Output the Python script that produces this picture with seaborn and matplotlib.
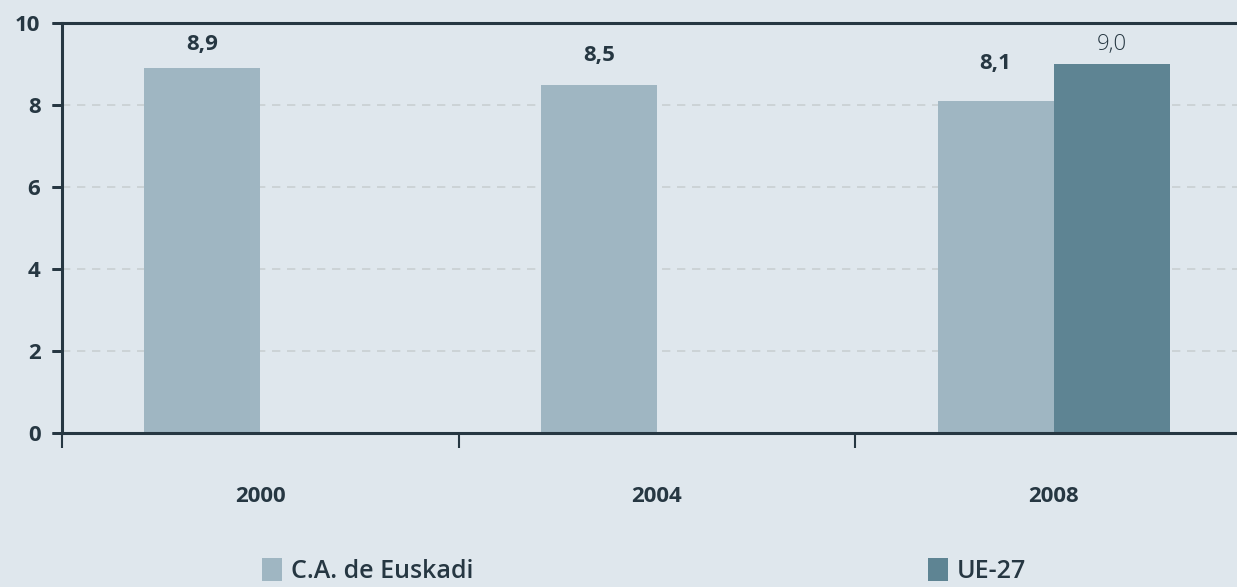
import pandas as pd
import numpy as np
import matplotlib.pyplot as plt
import seaborn as sns
from matplotlib.ticker import FixedLocator

years = ['2000', '2004', '2008']
euskadi = [8.9, 8.5, 8.1]
ue27 = [np.nan, np.nan, 9.0]
series = ['C.A. de Euskadi', 'UE-27']
colors = ['#9fb6c2', '#5e8493']

bg = '#dfe7ed'
dark = '#263742'

df = pd.DataFrame({
    'year': years * 2,
    'valor': euskadi + ue27,
    'serie': [series[0]] * 3 + [series[1]] * 3,
})

sns.set_style('ticks')
plt.rcParams['font.family'] = ['Open Sans', 'DejaVu Sans']

fig = plt.figure(figsize=(12.37, 5.87), dpi=100, facecolor=bg)
ax = fig.add_axes([62 / 1237, 154 / 587, 1190 / 1237, 410 / 587])
ax.set_facecolor(bg)

sns.barplot(data=df, x='year', y='valor', hue='serie', palette=colors,
            width=0.585, saturation=1, linewidth=0, ax=ax, legend=True)

ax.set_xlim(-0.5, 2.5)
ax.set_ylim(0, 10)
ax.set_yticks(range(0, 11, 2))
ax.set_xlabel('')
ax.set_ylabel('')

# linhas de grade tracejadas
for y in [2, 4, 6, 8]:
    ax.axhline(y, color='#c9cfd2', lw=1.2, ls=(0, (5, 4)), zorder=0)

for s in ['left', 'bottom', 'top']:
    ax.spines[s].set_color(dark)
    ax.spines[s].set_linewidth(2.2)
ax.spines['right'].set_visible(False)

ax.tick_params(axis='y', which='major', left=True, direction='out', length=7.5,
               width=2, color=dark, pad=8, labelsize=16, labelcolor=dark)
ax.tick_params(axis='x', which='major', bottom=True, length=0, pad=38,
               labelsize=16, labelcolor=dark)
ax.xaxis.set_minor_locator(FixedLocator([-0.5, 0.5, 1.5, 2.5]))
ax.tick_params(axis='x', which='minor', bottom=True, direction='out', length=11,
               width=1.5, color=dark)
for lbl in ax.get_xticklabels() + ax.get_yticklabels():
    lbl.set_fontweight('bold')

# traços do eixo y desenhados à mão (os ticks não apareciam)
for y in ax.get_yticks():
    ax.plot([-10 / 1190, 0], [y, y], transform=ax.get_yaxis_transform(),
            color=dark, lw=2, clip_on=False, solid_capstyle='butt')

# etiquetas de valores (deslocamento em pontos acima da barra)
offsets_ca = [17, 21, 27]
for bar, off in zip(ax.containers[0], offsets_ca):
    v = bar.get_height()
    x = bar.get_x() + bar.get_width() / 2
    ax.annotate(f'{v:.1f}'.replace('.', ','), (x, v), xytext=(0, off),
                textcoords='offset points', ha='center', va='center',
                fontsize=16, fontweight='bold', color=dark)
for bar in ax.containers[1]:
    v = bar.get_height()
    if np.isnan(v):
        continue
    x = bar.get_x() + bar.get_width() / 2
    ax.annotate(f'{v:.1f}'.replace('.', ','), (x, v), xytext=(0, 14),
                textcoords='offset points', ha='center', va='center',
                fontsize=16, fontweight='light', color=dark)

handles, labels = ax.get_legend_handles_labels()
ax.get_legend().remove()
leg = fig.legend(handles, labels, loc='center left', ncol=2,
                 bbox_to_anchor=(262 / 1237, 16 / 587), frameon=False,
                 handlelength=0.8, handleheight=1.0, handletextpad=0.35,
                 borderaxespad=0, borderpad=0,
                 columnspacing=18.2, prop={'size': 18, 'weight': 'semibold'})
for t in leg.get_texts():
    t.set_color(dark)

fig.savefig('out.png', dpi=100, facecolor=bg)
